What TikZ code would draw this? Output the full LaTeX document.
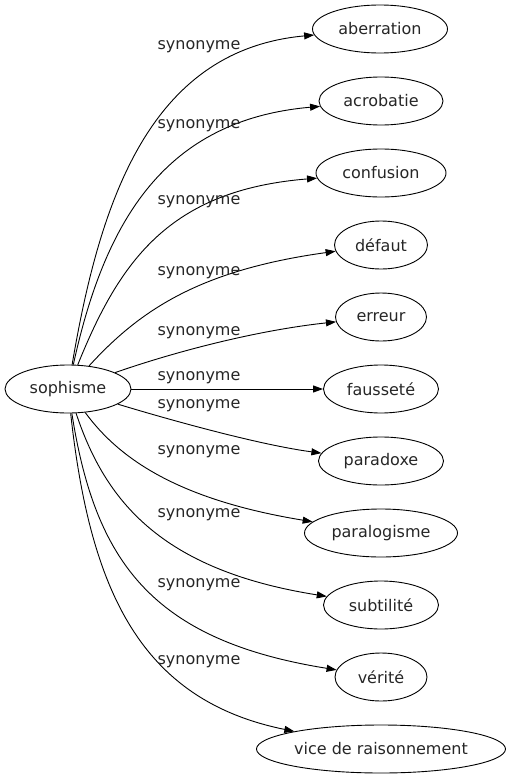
\documentclass[tikz,border=0pt]{standalone}
\usepackage{fontspec}
\setmainfont{DejaVu Sans}
\usetikzlibrary{arrows.meta,shapes.geometric}
\begin{document}
\begin{tikzpicture}[x=1pt,y=-1pt,
  word/.style={ellipse,draw,line width=0.9pt,inner sep=0pt,minimum height=48pt,font=\fontsize{16}{19}\selectfont,text=black!85},
  lbl/.style={font=\fontsize{16}{19}\selectfont,text=black!85,inner sep=0pt},
  syn/.style={draw,line width=0.9pt,-{Triangle[length=10pt,width=7pt]}}]
\useasboundingbox (0,0) rectangle (510,779);
\node[word,minimum width=126pt] (s) at (68,389) {sophisme};
\node[word,minimum width=135pt] (t1) at (380,29) {aberration};
\node[word,minimum width=124pt] (t2) at (381,101) {acrobatie};
\node[word,minimum width=130pt] (t3) at (381,173) {confusion};
\node[word,minimum width=93pt] (t4) at (381,245) {défaut};
\node[word,minimum width=91pt] (t5) at (381,317) {erreur};
\node[word,minimum width=115pt] (t6) at (381,389) {fausseté};
\node[word,minimum width=125pt] (t7) at (381,461) {paradoxe};
\node[word,minimum width=153pt] (t8) at (381,533) {paralogisme};
\node[word,minimum width=115pt] (t9) at (381,605) {subtilité};
\node[word,minimum width=92pt] (t10) at (381,677) {vérité};
\node[word,minimum width=249pt] (t11) at (381,749) {vice de raisonnement};
\path[syn] (s) .. controls (100,200) and (150,50) .. (t1);
\path[syn] (s) .. controls (105,220) and (165,120) .. (t2);
\path[syn] (s) .. controls (120,260) and (170,190) .. (t3);
\path[syn] (s) .. controls (140,310) and (200,270) .. (t4);
\path[syn] (s) .. controls (180,350) and (260,330) .. (t5);
\path[syn] (s) -- (t6);
\path[syn] (s) .. controls (170,420) and (260,445) .. (t7);
\path[syn] (s) .. controls (120,460) and (180,500) .. (t8);
\path[syn] (s) .. controls (105,500) and (160,570) .. (t9);
\path[syn] (s) .. controls (95,560) and (150,640) .. (t10);
\path[syn] (s) .. controls (90,590) and (140,700) .. (t11);
\node[lbl] (l1) at (199,47) {synonyme};
\node[lbl] (l2) at (199,126) {synonyme};
\node[lbl] (l3) at (199,202) {synonyme};
\node[lbl] (l4) at (199,273) {synonyme};
\node[lbl] (l5) at (199,333) {synonyme};
\node[lbl] (l6) at (199,378) {synonyme};
\node[lbl] (l7) at (199,406) {synonyme};
\node[lbl] (l8) at (199,452) {synonyme};
\node[lbl] (l9) at (199,515) {synonyme};
\node[lbl] (l10) at (199,585) {synonyme};
\node[lbl] (l11) at (199,662) {synonyme};
\end{tikzpicture}
\end{document}
